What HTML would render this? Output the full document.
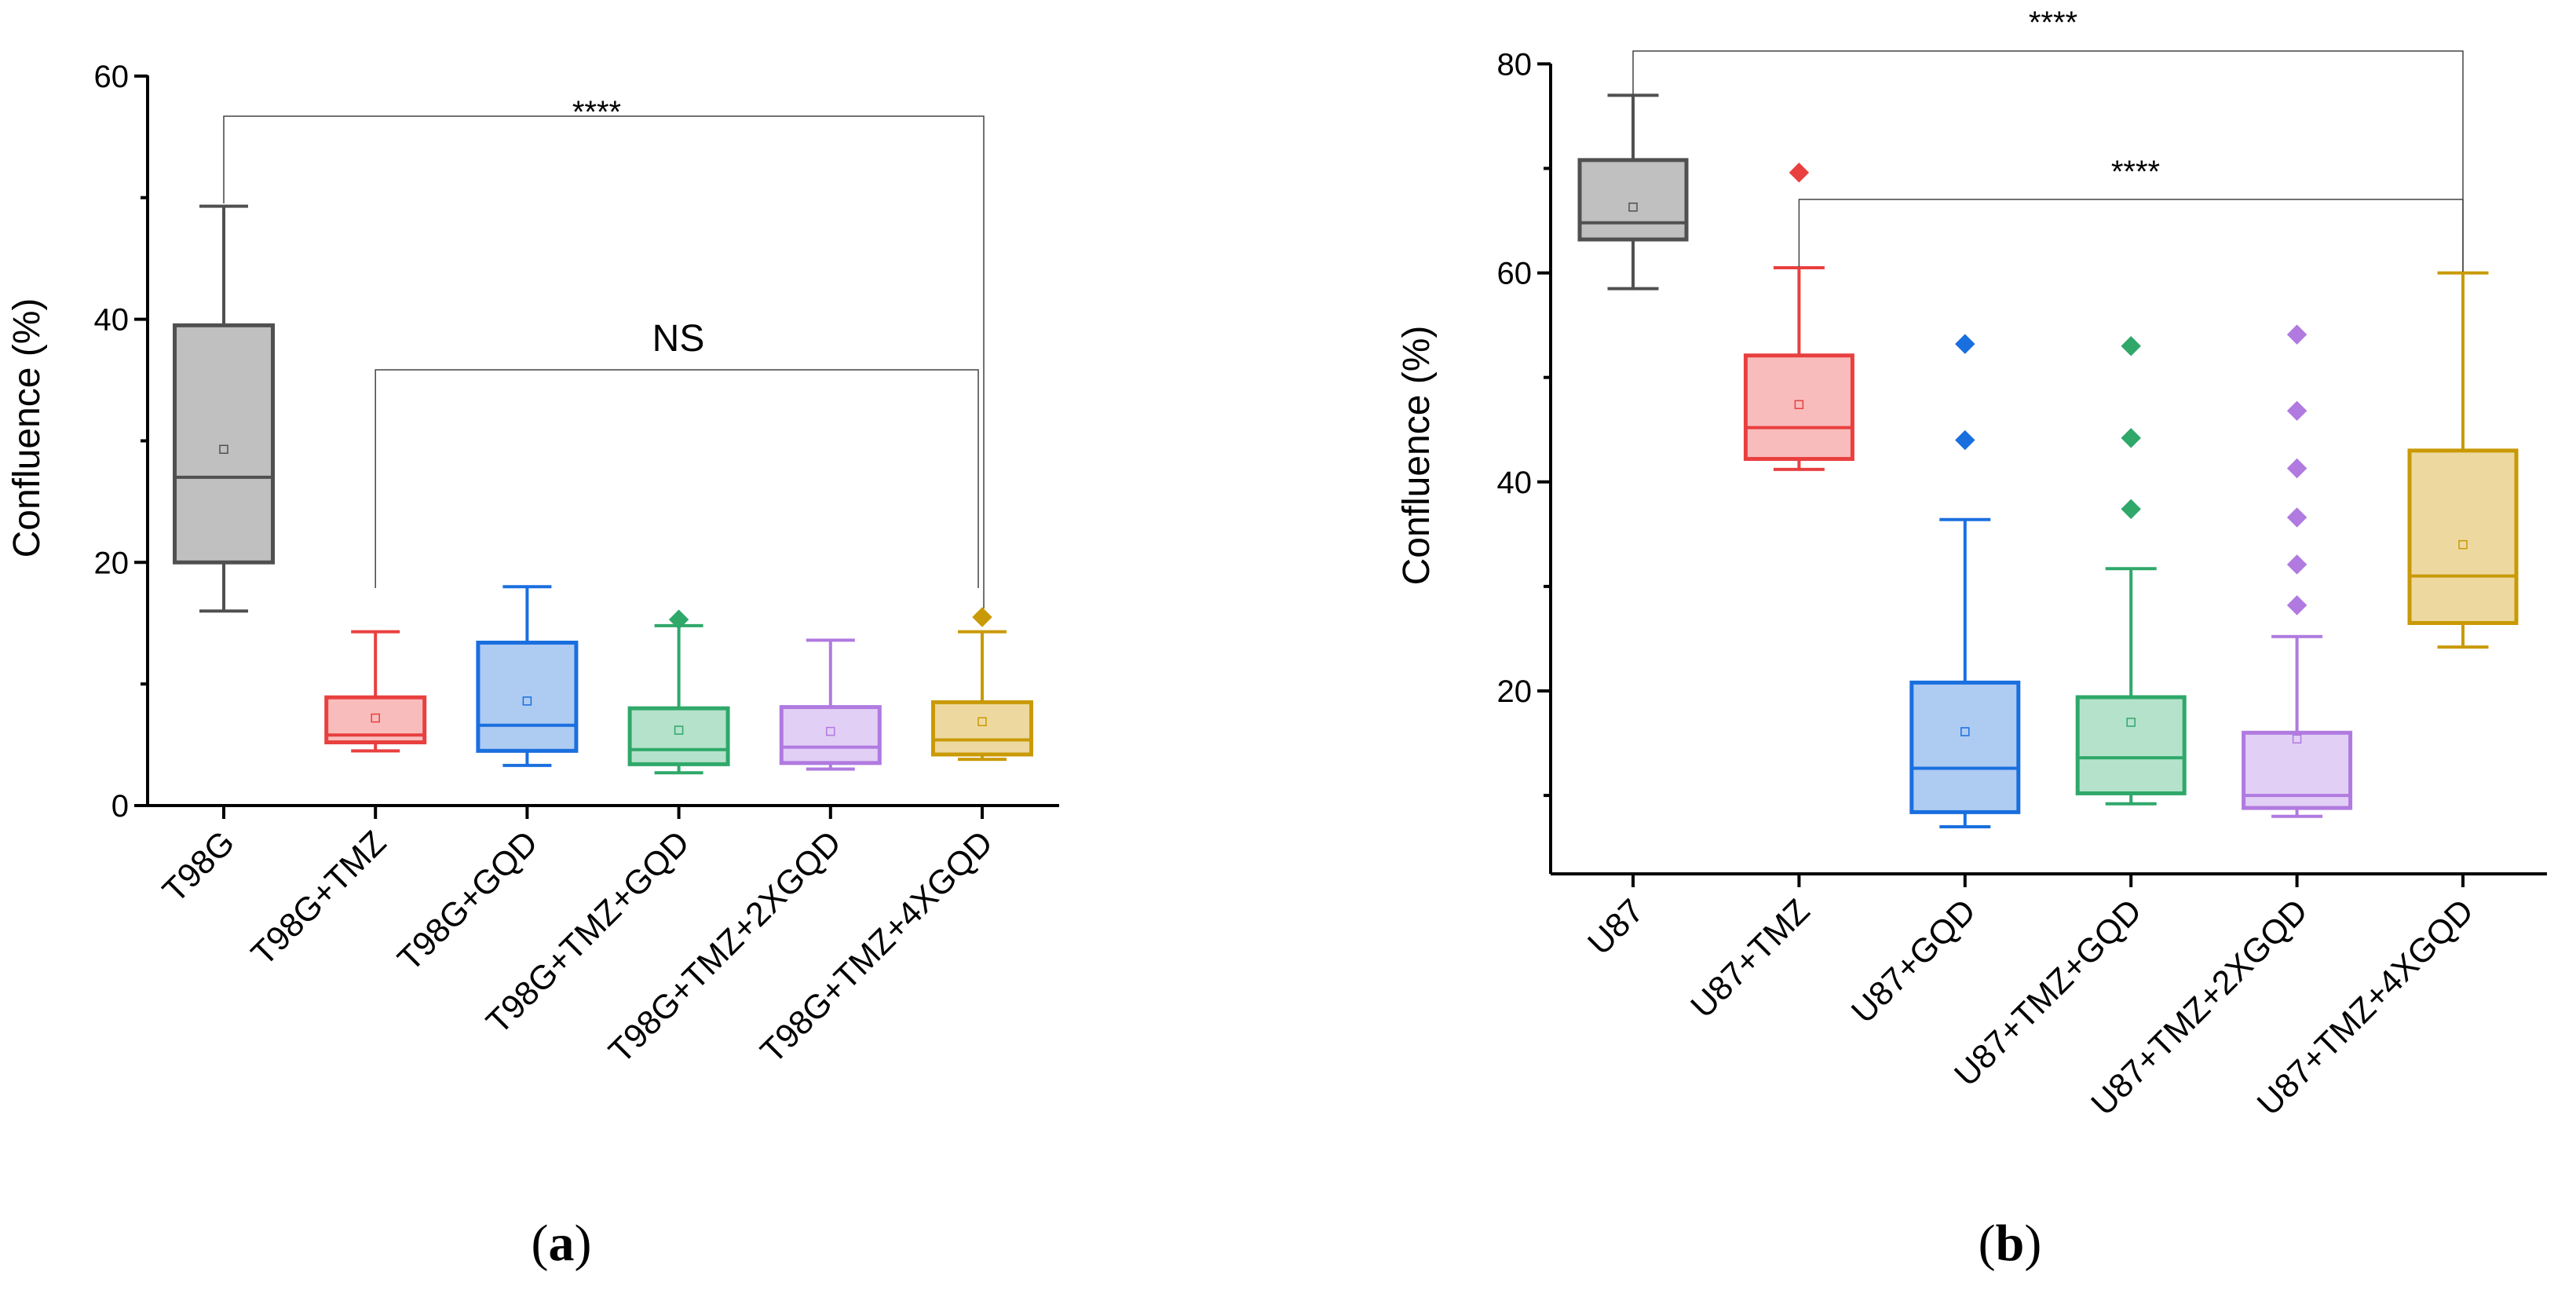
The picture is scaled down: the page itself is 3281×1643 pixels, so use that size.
<!DOCTYPE html>
<html><head><meta charset="utf-8"><style>html,body{margin:0;padding:0;background:#fff}svg{display:block}</style></head>
<body>
<svg id="chart" width="3281" height="1643" xmlns="http://www.w3.org/2000/svg" font-family="Liberation Sans, Arial, sans-serif"></svg>
<script>
const catsA = ["T98G","T98G+TMZ","T98G+GQD","T98G+TMZ+GQD","T98G+TMZ+2XGQD","T98G+TMZ+4XGQD"];
const minA = [16,4.5,3.3,2.7,3.0,3.8];
const q1A = [20,5.2,4.5,3.4,3.5,4.2];
const medA = [27,5.8,6.6,4.6,4.8,5.4];
const q3A = [39.5,8.9,13.4,8.0,8.1,8.5];
const maxA = [49.3,14.3,18,14.8,13.6,14.3];
const meanA = [29.3,7.2,8.6,6.2,6.1,6.9];
const outA = [[],[],[],[15.3],[],[15.5]];
const ticksA = [0,20,40,60];
const minorA = [10,30,50];

const catsB = ["U87","U87+TMZ","U87+GQD","U87+TMZ+GQD","U87+TMZ+2XGQD","U87+TMZ+4XGQD"];
const minB = [58.5,41.2,7.0,9.2,8.0,24.2];
const q1B = [63.2,42.2,8.4,10.2,8.8,26.5];
const medB = [64.8,45.2,12.6,13.6,10.0,31.0];
const q3B = [70.8,52.1,20.8,19.4,16.0,43.0];
const maxB = [77,60.5,36.4,31.7,25.2,60.0];
const meanB = [66.3,47.4,16.1,17.0,15.4,34.0];
const outB = [[],[69.6],[53.2,44.0],[53.0,44.2,37.4],[54.1,46.8,41.3,36.6,32.1,28.2],[]];
const ticksB = [20,40,60,80];
const minorB = [10,30,50,70];

const strokes = ["#505050","#e8403f","#1a6fdf","#2fa86a","#b07ae0","#c99a06"];
const fills = ["#c0c0c0","#f9bcbc","#aecbf2","#b5e2cb","#e2cff5","#edd9a0"];

const svg = document.getElementById('chart');
const NS = "http://www.w3.org/2000/svg";
function mk(tag, attrs, parent){ const e=document.createElementNS(NS,tag); for(const k in attrs) e.setAttribute(k,attrs[k]); (parent||svg).appendChild(e); return e; }

function panel(o){
  const g = mk('g',{});
  
  
  const y = v => o.y0 - (v - o.v0) * o.pxPer;
  const x = i => o.x0 + i * o.step;
  const ax = mk('line',{x1:o.ax,y1:o.axTop,x2:o.ax,y2:o.axBot,stroke:'#000','stroke-width':4},g);
   
  const bx = mk('line',{x1:o.ax,y1:o.axBot,x2:o.axRight,y2:o.axBot,stroke:'#000','stroke-width':4},g);
   
  o.ticks.forEach(t=>{
    mk('line',{x1:o.ax-17,y1:y(t),x2:o.ax,y2:y(t),stroke:'#000','stroke-width':4},g);
    const tl = mk('text',{x:o.ax-24,y:y(t)+14,'font-size':40,'text-anchor':'end'},g);
    tl.textContent = t;
     
  });
  o.minor.forEach(t=>{ mk('line',{x1:o.ax-9,y1:y(t),x2:o.ax,y2:y(t),stroke:'#000','stroke-width':4},g); });
  const yt = mk('text',{x:0,y:0,'font-size':48,'text-anchor':'middle',transform:`translate(${o.titleX},${o.titleY}) rotate(-90)`},g);
  yt.textContent='Confluence (%)';
   
  o.cats.forEach((c,i)=>{
    const cx = x(i);
    mk('line',{x1:cx,y1:o.axBot,x2:cx,y2:o.axBot+17,stroke:'#000','stroke-width':4},g);
    const lx = cx+16, ly = o.axBot+50;
    const lt = mk('text',{x:lx,y:ly,'font-size':43,'text-anchor':'end',transform:`rotate(-45 ${lx} ${ly})`},g);
    lt.textContent=c;
     
    const bg = mk('g',{},g);
     
    const s=strokes[i], f=fills[i], hw=o.bw/2, cw=o.cw/2;
    mk('line',{x1:cx,y1:y(o.max[i]),x2:cx,y2:y(o.q3[i]),stroke:s,'stroke-width':4},bg);
    mk('line',{x1:cx,y1:y(o.min[i]),x2:cx,y2:y(o.q1[i]),stroke:s,'stroke-width':4},bg);
    mk('line',{x1:cx-cw,y1:y(o.max[i]),x2:cx+cw,y2:y(o.max[i]),stroke:s,'stroke-width':4},bg);
    mk('line',{x1:cx-cw,y1:y(o.min[i]),x2:cx+cw,y2:y(o.min[i]),stroke:s,'stroke-width':4},bg);
    mk('rect',{x:cx-hw,y:y(o.q3[i]),width:o.bw,height:y(o.q1[i])-y(o.q3[i]),fill:f,stroke:s,'stroke-width':5},bg);
    mk('line',{x1:cx-hw,y1:y(o.med[i]),x2:cx+hw,y2:y(o.med[i]),stroke:s,'stroke-width':4},bg);
    mk('rect',{x:cx-5,y:y(o.mean[i])-5,width:10,height:10,fill:'none',stroke:s,'stroke-width':1.5},bg);
    o.out[i].forEach(v=>{
      const d = mk('rect',{x:cx-9,y:y(v)-9,width:18,height:18,fill:s,transform:`rotate(45 ${cx} ${y(v)})`},bg);
       
    });
  });
  o.brackets.forEach(b=>{
    const bg = mk('g',{},g);
     
    mk('polyline',{points:`${x(b.i)},${b.ly} ${x(b.i)},${b.top} ${x(b.j)+(b.dj||0)},${b.top} ${x(b.j)+(b.dj||0)},${b.ry}`,fill:'none',stroke:'#444','stroke-width':1.5},bg);
    const t = mk('text',{x:b.tx,y:b.ty,'font-size':b.fs,'text-anchor':'middle'},bg);
    t.textContent=b.label;
  });
  const pl = mk('text',{x:o.plX,y:1605,'font-size':66,'text-anchor':'middle','font-family':'Liberation Serif, serif'},g);
  pl.innerHTML = '(<tspan font-weight="bold">'+o.plabel+'</tspan>)';
   
}

panel({name:'panel-a',cats:catsA,min:minA,q1:q1A,med:medA,q3:q3A,max:maxA,mean:meanA,out:outA,ticks:ticksA,minor:minorA,
  v0:0,y0:1026,pxPer:309.7/20,x0:285,step:193.2,ax:188,axTop:96,axBot:1026,axRight:1349,bw:125,cw:62,
  titleX:50,titleY:545,plX:715,plabel:'a',
  brackets:[{i:0,j:5,top:148,ly:259,ry:775,dj:2,label:'****',tx:760,ty:156,fs:40},
            {i:1,j:5,top:471,ly:749,ry:749,dj:-5,label:'NS',tx:864,ty:447,fs:48}]});

panel({name:'panel-b',cats:catsB,min:minB,q1:q1B,med:medB,q3:q3B,max:maxB,mean:meanB,out:outB,ticks:ticksB,minor:minorB,
  v0:20,y0:880,pxPer:266.2/20,x0:2080,step:211.4,ax:1975,axTop:81,axBot:1113,axRight:3244,bw:136,cw:65,
  titleX:1820,titleY:580,plX:2560,plabel:'b',
  brackets:[{i:0,j:5,top:65,ly:122,ry:346,label:'****',tx:2615,ty:42,fs:40},
            {i:1,j:5,top:254,ly:340,ry:346,label:'****',tx:2720,ty:232,fs:40}]});
</script>
</body></html>
